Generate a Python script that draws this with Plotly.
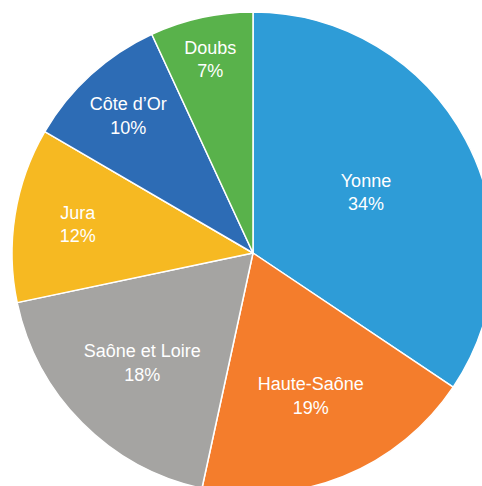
import plotly.graph_objects as go

labels = ["Yonne", "Haute-Saône", "Saône et Loire", "Jura", "Côte d’Or", "Doubs"]
values = [34.4, 19.0, 18.3, 11.7, 9.7, 6.9]
pct_labels = ["34%", "19%", "18%", "12%", "10%", "7%"]
colors = ["#2E9CD7", "#F47D2C", "#A5A4A2", "#F6B922", "#2D6CB5", "#59B24B"]

W = 506
lo, hi = 12 / W, 494 / W

fig = go.Figure(go.Pie(
    labels=labels,
    values=values,
    text=pct_labels,
    sort=False,
    direction="clockwise",
    rotation=0,
    marker=dict(colors=colors, line=dict(color="white", width=1.5)),
    texttemplate="%{label}<br>%{text}",
    textposition="inside",
    insidetextorientation="horizontal",
    textfont=dict(family="Liberation Sans, Arial, sans-serif", size=18, color="white"),
    hoverinfo="label+text",
    domain=dict(x=[lo, hi], y=[lo, hi]),
))
fig.update_layout(
    width=W, height=W,
    margin=dict(l=0, r=0, t=0, b=0),
    showlegend=False,
    paper_bgcolor="white",
    uniformtext=dict(minsize=18, mode="show"),
)
fig.write_html(
    "out.html",
    config={"displayModeBar": False},
    post_script="document.body.style.margin='0';document.body.style.overflow='hidden';",
)
